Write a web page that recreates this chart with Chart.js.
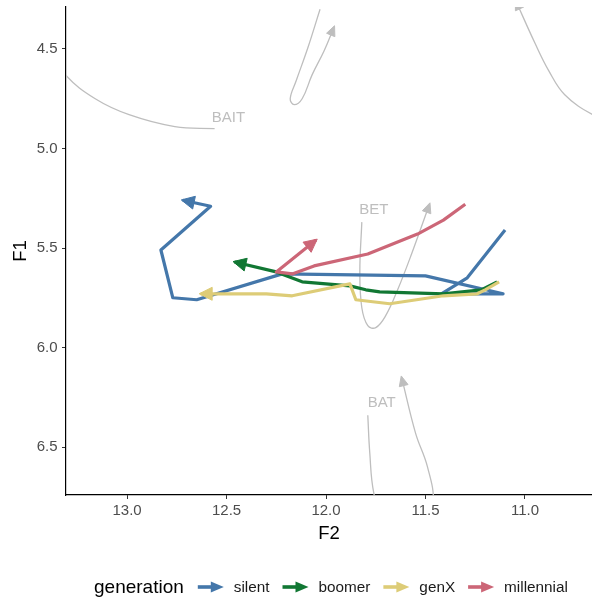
<!DOCTYPE html>
<html>
<head>
<meta charset="utf-8">
<script src="https://cdn.jsdelivr.net/npm/chart.js@4.4.1/dist/chart.umd.min.js"></script>
<style>
html,body{margin:0;padding:0;background:#ffffff;}
#wrap{width:592px;height:600px;position:relative;}
</style>
</head>
<body>
<div id="wrap"><canvas id="c" width="592" height="600"></canvas></div>
<script>
// ---- categories / colours ----
const generations = ['silent', 'boomer', 'genX', 'millennial'];
const genColors = ['#4477AA', '#117733', '#DDCC77', '#CC6677'];

// ---- generation trajectories (F2 = x, F1 = y), path order, arrow at end ----
const silentF2 = [11.10, 11.29, 11.42, 11.11, 11.50, 12.22, 12.65, 12.77, 12.83, 12.58, 12.72];
const silentF1 = [5.41, 5.65, 5.73, 5.73, 5.64, 5.63, 5.76, 5.75, 5.51, 5.29, 5.26];

const boomerF2 = [11.14, 11.22, 11.41, 11.73, 11.80, 11.88, 12.12, 12.25, 12.46];
const boomerF1 = [5.67, 5.71, 5.73, 5.72, 5.71, 5.69, 5.67, 5.62, 5.57];

const genXF2 = [11.13, 11.20, 11.24, 11.41, 11.68, 11.85, 11.88, 12.17, 12.30, 12.63];
const genXF1 = [5.67, 5.71, 5.73, 5.74, 5.78, 5.76, 5.68, 5.74, 5.73, 5.73];

const millennialF2 = [11.30, 11.41, 11.54, 11.79, 12.06, 12.17, 12.25, 12.05];
const millennialF1 = [5.28, 5.36, 5.43, 5.53, 5.59, 5.63, 5.62, 5.46];

// ---- grey reference vowel trajectories ----
const baitF2 = [12.56, 12.76, 12.99, 13.16, 13.31, 13.40, 13.38, 13.28];
const baitF1 = [4.90, 4.89, 4.83, 4.75, 4.63, 4.49, 4.35, 4.23];

const loopF2 = [12.03, 12.09, 12.15, 12.18, 12.16, 12.12, 12.07, 12.01, 11.96];
const loopF1 = [4.30, 4.49, 4.66, 4.75, 4.78, 4.75, 4.63, 4.51, 4.39];

const rightF2 = [10.42, 10.66, 10.80, 10.88, 10.95, 11.045];
const rightF1 = [4.94, 4.83, 4.73, 4.61, 4.47, 4.26];

const betF2 = [11.82, 11.83, 11.82, 11.79, 11.75, 11.70, 11.64, 11.57, 11.48];
const betF1 = [5.37, 5.62, 5.80, 5.89, 5.90, 5.84, 5.71, 5.53, 5.28];

const batF2 = [11.79, 11.78, 11.76, 11.70, 11.60, 11.50, 11.46, 11.49, 11.55, 11.62];
const batF1 = [6.34, 6.53, 6.73, 6.93, 7.02, 6.95, 6.78, 6.60, 6.43, 6.15];

// ---- vowel labels ----
const vowelLabels = ['BAIT', 'BET', 'BAT'];
const vowelLabelF2 = [12.49, 11.76, 11.72];
const vowelLabelF1 = [4.845, 5.31, 6.28];

// ---- axis ticks ----
const xTicks = [11.0, 11.5, 12.0, 12.5, 13.0];
const yTicks = [4.5, 5.0, 5.5, 6.0, 6.5];
const xRange = [10.663, 13.307];
const yRange = [4.289, 6.741];

const FONT = '"Liberation Sans", Arial, Helvetica, sans-serif';
const GREY = '#BEBEBE';

function pts(xs, ys) { return xs.map((x, i) => ({x: x, y: ys[i]})); }

const genSeries = [
  [silentF2, silentF1], [boomerF2, boomerF1], [genXF2, genXF1], [millennialF2, millennialF1]
];
const greySeries = [[baitF2, baitF1], [loopF2, loopF1], [rightF2, rightF1], [betF2, betF1], [batF2, batF1]];

const datasets = [];
greySeries.forEach((s, i) => {
  datasets.push({
    label: 'ref' + i, data: pts(s[0], s[1]),
    borderColor: GREY, borderWidth: 1.3, pointRadius: 0, tension: 0.4,
    capBezierPoints: false, fill: false, order: 10, arrow: {len: 10, half: 4.5}
  });
});
generations.forEach((g, i) => {
  datasets.push({
    label: g, data: pts(genSeries[i][0], genSeries[i][1]),
    borderColor: genColors[i], borderWidth: 3.2, pointRadius: 0, tension: 0,
    borderJoinStyle: 'round', fill: false, order: 4 - i, arrow: {len: 13, half: 6.5}
  });
});

function drawHead(ctx, tx, ty, fx, fy, len, half, color) {
  const dx = tx - fx, dy = ty - fy;
  const d = Math.hypot(dx, dy) || 1;
  const ux = dx / d, uy = dy / d;
  tx += ux * 1.5; ty += uy * 1.5;
  const bx = tx - ux * len, by = ty - uy * len;
  ctx.beginPath();
  ctx.moveTo(tx, ty);
  ctx.lineTo(bx - uy * half, by + ux * half);
  ctx.lineTo(bx + uy * half, by - ux * half);
  ctx.closePath();
  ctx.fillStyle = color;
  ctx.strokeStyle = color;
  ctx.lineWidth = 1;
  ctx.lineJoin = 'miter';
  ctx.fill();
  ctx.stroke();
}

const arrowPlugin = {
  id: 'arrowHeads',
  afterDatasetDraw(chart, args) {
    const ds = chart.data.datasets[args.index];
    if (!ds.arrow) return;
    const pts = args.meta.data;
    if (pts.length < 2) return;
    const p = pts[pts.length - 1];
    let fx, fy;
    if (ds.tension > 0 && p.cp1x !== undefined && Math.hypot(p.cp1x - p.x, p.cp1y - p.y) > 0.5) {
      fx = p.cp1x; fy = p.cp1y;
    } else {
      fx = pts[pts.length - 2].x; fy = pts[pts.length - 2].y;
    }
    const ca = chart.chartArea;
    const ctx = chart.ctx;
    ctx.save();
    ctx.beginPath();
    ctx.rect(ca.left, ca.top, ca.right - ca.left, ca.bottom - ca.top);
    ctx.clip();
    drawHead(ctx, p.x, p.y, fx, fy, ds.arrow.len, ds.arrow.half, ds.borderColor);
    ctx.restore();
  }
};

const labelPlugin = {
  id: 'vowelLabels',
  afterDatasetsDraw(chart) {
    const ctx = chart.ctx, xs = chart.scales.x, ys = chart.scales.y;
    ctx.save();
    ctx.font = '15px ' + FONT;
    ctx.fillStyle = GREY;
    ctx.textAlign = 'center';
    ctx.textBaseline = 'middle';
    vowelLabels.forEach((t, i) => {
      ctx.fillText(t, xs.getPixelForValue(vowelLabelF2[i]), ys.getPixelForValue(vowelLabelF1[i]));
    });
    ctx.restore();
  }
};

const legendPlugin = {
  id: 'ggLegend',
  afterDraw(chart) {
    const ctx = chart.ctx;
    ctx.save();
    const y = 587;
    ctx.textBaseline = 'middle';
    ctx.textAlign = 'left';
    ctx.font = '19px ' + FONT;
    const titleW = ctx.measureText('generation').width;
    ctx.font = '15.3px ' + FONT;
    const lw = generations.map(g => ctx.measureText(g).width);
    const keyW = 26, gapTitle = 14, gapKey = 10, gapItem = 13;
    let x = 94;
    ctx.font = '19px ' + FONT;
    ctx.fillStyle = '#000000';
    ctx.fillText('generation', x, y + 1);
    x += titleW + gapTitle;
    ctx.font = '15.3px ' + FONT;
    generations.forEach((g, i) => {
      ctx.strokeStyle = genColors[i];
      ctx.lineWidth = 3.6;
      ctx.lineCap = 'butt';
      ctx.beginPath();
      ctx.moveTo(x, y);
      ctx.lineTo(x + 17, y);
      ctx.stroke();
      ctx.beginPath();
      ctx.moveTo(x + keyW, y);
      ctx.lineTo(x + 13, y - 5.5);
      ctx.lineTo(x + 13, y + 5.5);
      ctx.closePath();
      ctx.fillStyle = genColors[i];
      ctx.fill();
      x += keyW + gapKey;
      ctx.fillStyle = '#1A1A1A';
      ctx.fillText(g, x, y + 1);
      x += lw[i] + gapItem;
    });
    ctx.restore();
  }
};

function noPad(s) { s.paddingTop = 0; s.paddingBottom = 0; s.paddingLeft = 0; s.paddingRight = 0; }

new Chart(document.getElementById('c'), {
  type: 'line',
  data: {datasets: datasets},
  plugins: [arrowPlugin, labelPlugin, legendPlugin],
  options: {
    responsive: false,
    animation: false,
    events: [],
    layout: {padding: {left: 0, right: 0, top: 7, bottom: 55}},
    plugins: {legend: {display: false}, tooltip: {enabled: false}},
    scales: {
      x: {
        type: 'linear', reverse: true, min: xRange[0], max: xRange[1],
        afterFit(s) { s.height = 50; noPad(s); },
        afterBuildTicks(s) { s.ticks = xTicks.map(v => ({value: v})); },
        ticks: {
          autoSkip: false, maxRotation: 0, padding: 3, color: '#4D4D4D',
          font: {family: FONT, size: 15},
          callback: v => Number(v).toFixed(1)
        },
        grid: {display: true, drawOnChartArea: false, drawTicks: true, tickLength: 4, color: '#333333', lineWidth: 1},
        border: {display: true, color: '#000000', width: 1.2},
        title: {display: true, text: 'F2', color: '#000000', font: {family: FONT, size: 18.5}, padding: {top: 0, bottom: 0}}
      },
      y: {
        type: 'linear', reverse: true, min: yRange[0], max: yRange[1],
        afterFit(s) { s.width = 66; noPad(s); },
        afterBuildTicks(s) { s.ticks = yTicks.map(v => ({value: v})); },
        ticks: {
          autoSkip: false, padding: 4.5, color: '#4D4D4D',
          font: {family: FONT, size: 15},
          callback: v => Number(v).toFixed(1)
        },
        grid: {display: true, drawOnChartArea: false, drawTicks: true, tickLength: 4, color: '#333333', lineWidth: 1},
        border: {display: true, color: '#000000', width: 1.2},
        title: {display: true, text: 'F1', color: '#000000', font: {family: FONT, size: 18.5}, padding: {top: 10, bottom: 0}}
      }
    }
  }
});
</script>
</body>
</html>
